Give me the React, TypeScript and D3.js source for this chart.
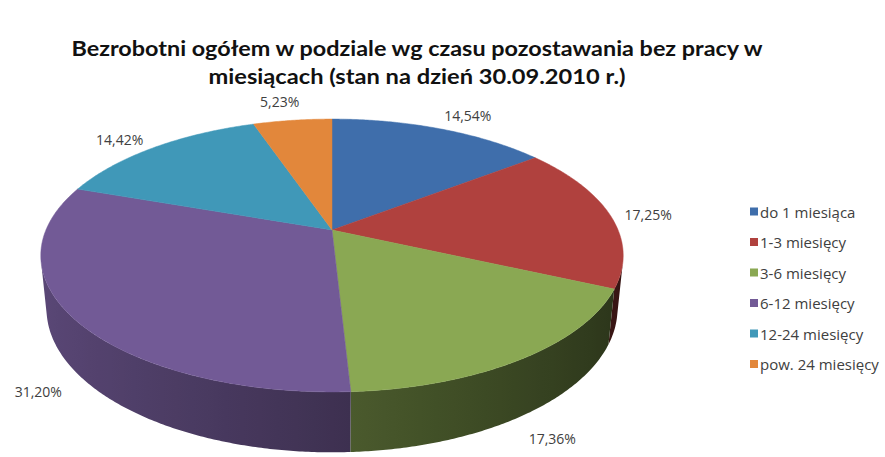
import { useMemo } from "react";
import * as d3 from "d3";

const W = 885;
const H = 457;

const categories = [
  "do 1 miesiąca",
  "1-3 miesięcy",
  "3-6 miesięcy",
  "6-12 miesięcy",
  "12-24 miesięcy",
  "pow. 24 miesięcy",
];
const shares = [14.54, 17.25, 17.36, 31.2, 14.42, 5.23];
const sliceColors = ["#3f6eab", "#b0413e", "#8aa853", "#725a96", "#4098b8", "#e2873b"];
const titleLines = [
  "Bezrobotni ogółem w podziale wg czasu pozostawania bez pracy w",
  "miesiącach (stan na dzień 30.09.2010 r.)",
];

// simple perspective camera looking down on a unit-radius pie
const TILT = Math.asin(0.451);
const DIST = 4.775;
const THICK = 0.205;
const CX = 332;
const CY = 230;
const KX = 1366;
const KY = 1394;

function project(x: number, y: number, z: number): [number, number] {
  const s = Math.sin(TILT);
  const c = Math.cos(TILT);
  const vy = y + DIST * c;
  const vz = z - DIST * s;
  const yc = s * vy + c * vz;
  const zc = c * vy - s * vz;
  return [CX + (KX * x) / zc, CY - (KY * yc) / zc];
}

const rim = (a: number, z: number) => project(Math.sin(a), Math.cos(a), z);

const fmt = (v: number) => d3.format(".2f")(v).replace(".", ",") + "%";

function shade(color: string, a: number) {
  const f = 0.55 + 0.25 * -Math.sin(a);
  const c = d3.rgb(color);
  return d3.rgb(c.r * f, c.g * f, c.b * f).formatHex();
}

export default function App() {
  const arcs = useMemo(
    () =>
      d3
        .pie<number>()
        .sort(null)
        .value((d) => d)
        .startAngle(0)
        .endAngle(2 * Math.PI)(shares),
    []
  );

  // wall faces the camera when cos(a) < -1/(d*cos(tilt))
  const visLo = Math.acos(-1 / (DIST * Math.cos(TILT)));
  const visHi = 2 * Math.PI - visLo;

  const walls: { d: string; x0: number; x1: number; stops: { off: number; col: string }[] }[] = [];
  arcs.forEach((a, i) => {
    const lo = Math.max(a.startAngle, visLo);
    const hi = Math.min(a.endAngle, visHi);
    if (hi <= lo) return;
    const n = Math.max(4, Math.ceil((hi - lo) / (Math.PI / 360)));
    const angs = d3.range(n + 1).map((k) => lo + ((hi - lo) * k) / n);
    const topPts = angs.map((t) => rim(t, 0));
    const botPts = angs.map((t) => rim(t, -THICK)).reverse();
    const p = d3.path();
    topPts.concat(botPts).forEach((q, k) => (k ? p.lineTo(q[0], q[1]) : p.moveTo(q[0], q[1])));
    p.closePath();
    // walls run right-to-left as the angle grows, so the gradient runs along x
    const xs = topPts.map((q) => q[0]);
    const x0 = d3.min(xs)!;
    const x1 = d3.max(xs)!;
    const stops = angs
      .filter((_, k) => k % 6 === 0 || k === n)
      .map((t) => ({ off: (rim(t, 0)[0] - x0) / (x1 - x0 || 1), col: shade(sliceColors[i], t) }))
      .sort((u, v) => u.off - v.off);
    walls.push({ d: p.toString(), x0, x1, stops });
  });

  const apex = project(0, 0, 0);
  const tops = arcs.map((a, i) => {
    const p = d3.path();
    p.moveTo(apex[0], apex[1]);
    const n = Math.max(4, Math.ceil((a.endAngle - a.startAngle) / (Math.PI / 360)));
    for (let k = 0; k <= n; k++) {
      const t = a.startAngle + ((a.endAngle - a.startAngle) * k) / n;
      const q = rim(t, 0);
      p.lineTo(q[0], q[1]);
    }
    p.closePath();
    return { d: p.toString(), fill: sliceColors[i] };
  });

  const labels = arcs.map((a) => {
    const mid = (a.startAngle + a.endAngle) / 2;
    const front = Math.cos(mid) < 0;
    const q = rim(mid, front ? -THICK : 0);
    const dx = q[0] - apex[0];
    const dy = q[1] - apex[1];
    const len = Math.hypot(dx, dy);
    const ux = dx / len;
    const uy = dy / len;
    const gap = front ? 22 : 12;
    return {
      x: q[0] + ux * (gap + 26),
      y: q[1] + uy * (gap + 8),
      text: fmt(a.data),
    };
  });

  const legendY = d3.scaleLinear().domain([0, 1]).range([211.5, 242]);

  return (
    <svg
      width={W}
      height={H}
      style={{ position: "absolute", left: 0, top: 0, background: "#fff" }}
      fontFamily="'Open Sans', sans-serif"
    >
      <defs>
        {walls.map((w, i) => (
          <linearGradient key={i} id={`wall${i}`} gradientUnits="userSpaceOnUse" x1={w.x0} y1={0} x2={w.x1} y2={0}>
            {w.stops.map((s, k) => (
              <stop key={k} offset={s.off} stopColor={s.col} />
            ))}
          </linearGradient>
        ))}
      </defs>
      <rect width={W} height={H} fill="#fff" />
      {titleLines.map((t, i) => (
        <text
          key={i}
          x={417}
          y={56 + i * 28}
          textAnchor="middle"
          fontFamily="Lato, 'Open Sans', sans-serif"
          fontSize={21}
          fontWeight="bold"
          fill="#111"
          textLength={i === 0 ? 691 : 417}
          lengthAdjust="spacingAndGlyphs"
        >
          {t}
        </text>
      ))}
      <g>
        {walls.map((w, i) => (
          <path key={i} d={w.d} fill={`url(#wall${i})`} />
        ))}
      </g>
      <g>
        {tops.map((t, i) => (
          <path key={i} d={t.d} fill={t.fill} stroke={t.fill} strokeWidth={0.5} />
        ))}
      </g>
      <g fontSize={14} fill="#404040">
        {labels.map((l, i) => (
          <text key={i} x={l.x} y={l.y} textAnchor="middle" dominantBaseline="central">
            {l.text}
          </text>
        ))}
      </g>
      <g fontSize={15} fill="#404040">
        {categories.map((c, i) => (
          <g key={c} transform={`translate(750,${legendY(i)})`}>
            <rect x={0} y={-4} width={8} height={8} fill={sliceColors[i]} />
            <text x={10} y={0} dominantBaseline="central">
              {c}
            </text>
          </g>
        ))}
      </g>
    </svg>
  );
}
